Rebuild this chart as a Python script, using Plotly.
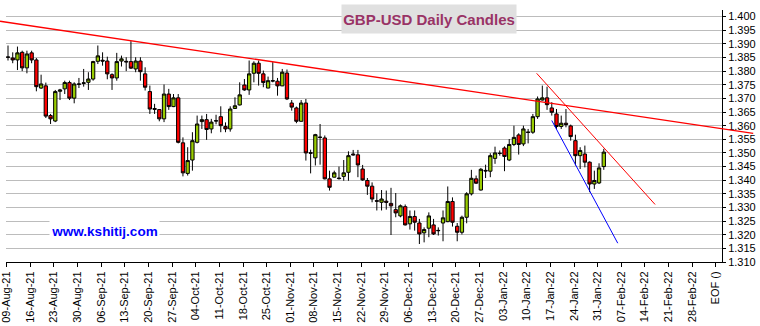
import plotly.graph_objects as go
import pandas as pd

# ---------------- data ----------------
START_DATE = "2021-08-09"

OPEN = [1.3852, 1.3848, 1.3841, 1.3869, 1.3812, 1.3867, 1.3841, 1.3738, 1.3746, 1.3637,
        1.3617, 1.3726, 1.3735, 1.3758, 1.3701, 1.3753, 1.3755, 1.3759, 1.3771, 1.3836,
        1.3840, 1.3837, 1.3787, 1.3775, 1.3837, 1.3836, 1.3835, 1.3808, 1.3837, 1.3790,
        1.3725, 1.3663, 1.3659, 1.3625, 1.3716, 1.3670, 1.3702, 1.3537, 1.3425, 1.3474,
        1.3539, 1.3615, 1.3622, 1.3588, 1.3617, 1.3633, 1.3597, 1.3588, 1.3663, 1.3676,
        1.3749, 1.3731, 1.3792, 1.3829, 1.3790, 1.3738, 1.3765, 1.3763, 1.3746, 1.3793,
        1.3683, 1.3665, 1.3616, 1.3683, 1.3501, 1.3482, 1.3558, 1.3555, 1.3405, 1.3411,
        1.3408, 1.3414, 1.3429, 1.3496, 1.3493, 1.3441, 1.3399, 1.3378, 1.3325, 1.3319,
        1.3323, 1.3315, 1.3292, 1.3269, 1.3303, 1.3240, 1.3267, 1.3243, 1.3207, 1.3224,
        1.3236, 1.3216, 1.3243, 1.3248, 1.3322, 1.3231, 1.3209, 1.3264, 1.3350, 1.3405,
        1.3364, 1.3436, 1.3433, 1.3480, 1.3499, 1.3518, 1.3474, 1.3531, 1.3566, 1.3533,
        1.3577, 1.3576, 1.3633, 1.3694, 1.3702, 1.3665, 1.3643, 1.3597, 1.3609, 1.3599,
        1.3545, 1.3490, 1.3496, 1.3466, 1.3386, 1.3390, 1.3450]
HIGH = [1.3894, 1.3869, 1.3890, 1.3875, 1.3875, 1.3875, 1.3848, 1.3787, 1.3758, 1.3643,
        1.3731, 1.3735, 1.3765, 1.3765, 1.3759, 1.3775, 1.3808, 1.3796, 1.3838, 1.3894,
        1.3869, 1.3853, 1.3792, 1.3867, 1.3857, 1.3851, 1.3910, 1.3851, 1.3851, 1.3814,
        1.3747, 1.3680, 1.3661, 1.3751, 1.3735, 1.3716, 1.3716, 1.3557, 1.3521, 1.3576,
        1.3637, 1.3637, 1.3643, 1.3625, 1.3640, 1.3671, 1.3612, 1.3671, 1.3704, 1.3759,
        1.3771, 1.3839, 1.3836, 1.3839, 1.3802, 1.3780, 1.3833, 1.3775, 1.3808, 1.3806,
        1.3694, 1.3670, 1.3694, 1.3698, 1.3512, 1.3570, 1.3606, 1.3564, 1.3435, 1.3435,
        1.3450, 1.3474, 1.3506, 1.3511, 1.3511, 1.3456, 1.3408, 1.3392, 1.3352, 1.3364,
        1.3362, 1.3372, 1.3353, 1.3311, 1.3311, 1.3289, 1.3289, 1.3258, 1.3227, 1.3282,
        1.3258, 1.3227, 1.3289, 1.3377, 1.3337, 1.3243, 1.3270, 1.3356, 1.3438, 1.3417,
        1.3445, 1.3457, 1.3499, 1.3523, 1.3509, 1.3524, 1.3551, 1.3600, 1.3572, 1.3600,
        1.3588, 1.3643, 1.3707, 1.3747, 1.3743, 1.3686, 1.3661, 1.3637, 1.3661, 1.3604,
        1.3567, 1.3521, 1.3527, 1.3469, 1.3435, 1.3462, 1.3515]
LOW = [1.3839, 1.3829, 1.3804, 1.3800, 1.3792, 1.3829, 1.3726, 1.3735, 1.3628, 1.3606,
       1.3613, 1.3694, 1.3716, 1.3694, 1.3682, 1.3738, 1.3743, 1.3731, 1.3765, 1.3826,
       1.3820, 1.3770, 1.3731, 1.3765, 1.3817, 1.3800, 1.3808, 1.3796, 1.3765, 1.3729,
       1.3643, 1.3643, 1.3616, 1.3613, 1.3658, 1.3668, 1.3535, 1.3414, 1.3417, 1.3435,
       1.3535, 1.3588, 1.3548, 1.3572, 1.3605, 1.3576, 1.3576, 1.3578, 1.3661, 1.3674,
       1.3728, 1.3713, 1.3759, 1.3747, 1.3741, 1.3737, 1.3759, 1.3710, 1.3745, 1.3694,
       1.3655, 1.3609, 1.3615, 1.3472, 1.3425, 1.3454, 1.3457, 1.3403, 1.3362, 1.3410,
       1.3402, 1.3398, 1.3398, 1.3490, 1.3411, 1.3398, 1.3346, 1.3319, 1.3289, 1.3289,
       1.3292, 1.3199, 1.3264, 1.3264, 1.3234, 1.3219, 1.3215, 1.3166, 1.3172, 1.3191,
       1.3199, 1.3197, 1.3176, 1.3246, 1.3230, 1.3176, 1.3201, 1.3242, 1.3344, 1.3386,
       1.3362, 1.3408, 1.3411, 1.3460, 1.3490, 1.3433, 1.3470, 1.3525, 1.3494, 1.3525,
       1.3535, 1.3570, 1.3625, 1.3692, 1.3658, 1.3637, 1.3588, 1.3588, 1.3594, 1.3545,
       1.3454, 1.3441, 1.3447, 1.3356, 1.3368, 1.3386, 1.3438]
CLOSE = [1.3851, 1.3841, 1.3867, 1.3812, 1.3863, 1.3841, 1.3743, 1.3753, 1.3635, 1.3625,
         1.3725, 1.3731, 1.3758, 1.3701, 1.3753, 1.3752, 1.3757, 1.3771, 1.3835, 1.3856,
         1.3837, 1.3790, 1.3775, 1.3835, 1.3845, 1.3834, 1.3811, 1.3837, 1.3798, 1.3741,
         1.3661, 1.3660, 1.3625, 1.3716, 1.3670, 1.3702, 1.3539, 1.3427, 1.3472, 1.3545,
         1.3606, 1.3622, 1.3586, 1.3613, 1.3618, 1.3600, 1.3588, 1.3661, 1.3673, 1.3713,
         1.3731, 1.3790, 1.3829, 1.3792, 1.3758, 1.3765, 1.3764, 1.3746, 1.3796, 1.3698,
         1.3668, 1.3616, 1.3683, 1.3500, 1.3499, 1.3567, 1.3557, 1.3405, 1.3374, 1.3427,
         1.3406, 1.3427, 1.3490, 1.3493, 1.3456, 1.3401, 1.3378, 1.3331, 1.3323, 1.3331,
         1.3319, 1.3306, 1.3280, 1.3306, 1.3236, 1.3267, 1.3246, 1.3203, 1.3219, 1.3269,
         1.3203, 1.3215, 1.3262, 1.3322, 1.3246, 1.3209, 1.3264, 1.3350, 1.3407, 1.3389,
         1.3440, 1.3434, 1.3490, 1.3500, 1.3498, 1.3487, 1.3531, 1.3557, 1.3531, 1.3588,
         1.3575, 1.3633, 1.3698, 1.3702, 1.3677, 1.3649, 1.3597, 1.3609, 1.3604, 1.3560,
         1.3490, 1.3509, 1.3466, 1.3386, 1.3399, 1.3445, 1.3503]

WEEK_LABELS = ["09-Aug-21", "16-Aug-21", "23-Aug-21", "30-Aug-21", "06-Sep-21", "13-Sep-21",
               "20-Sep-21", "27-Sep-21", "04-Oct-21", "11-Oct-21", "18-Oct-21", "25-Oct-21",
               "01-Nov-21", "08-Nov-21", "15-Nov-21", "22-Nov-21", "29-Nov-21", "06-Dec-21",
               "13-Dec-21", "20-Dec-21", "27-Dec-21", "03-Jan-22", "10-Jan-22", "17-Jan-22",
               "24-Jan-22", "31-Jan-22", "07-Feb-22", "14-Feb-22", "21-Feb-22", "28-Feb-22",
               "EOF ()"]
DAYS_PER_WEEK = 5

Y_TICKS = [1.310, 1.315, 1.320, 1.325, 1.330, 1.335, 1.340, 1.345, 1.350, 1.355,
           1.360, 1.365, 1.370, 1.375, 1.380, 1.385, 1.390, 1.395, 1.400]

# trend lines: (trading-day index, price) end points
TREND_LONG_X = [-1.69, 157.6]
TREND_LONG_Y = [1.3983, 1.3572]
TREND_RED_X = [111.8, 136.85]
TREND_RED_Y = [1.3792, 1.3311]
TREND_BLUE_X = [115.0, 128.95]
TREND_BLUE_Y = [1.3619, 1.3169]

TITLE = "GBP-USD Daily Candles"
WATERMARK = "www.kshitij.com"

# ---------------- layout geometry ----------------
W, H = 760, 326
ML, MR, MT, MB = 0, 0, 10, 64
PLOT_L, PLOT_R = 6, 722          # pixel extent of the main plot area
X_RANGE = [-0.423, 151.0]
Y_RANGE = [1.310, 1.40242]
FONT = "Liberation Sans, Arial, sans-serif"

dates = pd.bdate_range(START_DATE, periods=len(OPEN))
xpos = list(range(len(OPEN)))
hover = [d.strftime("%d-%b-%y") for d in dates]
tickvals = [DAYS_PER_WEEK * w - 0.3 for w in range(len(WEEK_LABELS))]

fig = go.Figure()
fig.add_trace(go.Candlestick(
    x=xpos, open=OPEN, high=HIGH, low=LOW, close=CLOSE, text=hover,
    increasing=dict(fillcolor="#99cc00", line=dict(color="#000000", width=1)),
    decreasing=dict(fillcolor="#ff0000", line=dict(color="#000000", width=1)),
    whiskerwidth=0, showlegend=False, hoverinfo="text+y",
))
fig.add_trace(go.Scatter(x=TREND_RED_X, y=TREND_RED_Y, mode="lines",
                         line=dict(color="#ff0000", width=1), showlegend=False, hoverinfo="skip"))
fig.add_trace(go.Scatter(x=TREND_BLUE_X, y=TREND_BLUE_Y, mode="lines",
                         line=dict(color="#0000ff", width=1), showlegend=False, hoverinfo="skip"))

# long trend line runs past the plot edges: draw it on a full-width twin axis with the same scale
plot_w = PLOT_R - PLOT_L
k = (X_RANGE[1] - X_RANGE[0]) / plot_w
x2_range = [X_RANGE[0] - PLOT_L * k, X_RANGE[1] + (W - PLOT_R) * k]
fig.add_trace(go.Scatter(x=TREND_LONG_X, y=TREND_LONG_Y, mode="lines", xaxis="x2", yaxis="y2",
                         line=dict(color="#ff0000", width=1.3), showlegend=False, hoverinfo="skip"))

plot_h = H - MT - MB
fig.update_layout(
    width=W, height=H,
    margin=dict(l=ML, r=MR, t=MT, b=MB, pad=0),
    paper_bgcolor="#ffffff", plot_bgcolor="rgba(0,0,0,0)",
    font=dict(family=FONT, size=11, color="#000000"),
    boxgap=0.3, boxgroupgap=0.0,
    xaxis=dict(
        domain=[PLOT_L / W, PLOT_R / W], range=X_RANGE, anchor="y",
        tickmode="array", tickvals=tickvals, ticktext=WEEK_LABELS, tickangle=-90,
        ticks="outside", ticklen=4, tickcolor="#000000", tickwidth=1,
        showline=True, linecolor="#000000", linewidth=1,
        showgrid=False, zeroline=False, rangeslider=dict(visible=False),
        tickfont=dict(family=FONT, size=11, color="#000000"), automargin=False,
    ),
    yaxis=dict(
        domain=[0, 1], range=Y_RANGE, anchor="x", side="right",
        tickmode="array", tickvals=Y_TICKS, ticktext=[f"{v:.3f}" for v in Y_TICKS],
        ticks="outside", ticklen=3, tickcolor="#000000", tickwidth=1,
        showline=True, linecolor="#000000", linewidth=1,
        showgrid=True, gridcolor="#bcbcbc", gridwidth=1, zeroline=False,
        tickfont=dict(family=FONT, size=11, color="#000000"), automargin=False,
    ),
    xaxis2=dict(domain=[0, 1], range=x2_range, anchor="y2", visible=False,
                showgrid=False, zeroline=False),
    yaxis2=dict(domain=[0, 1], range=Y_RANGE, anchor="x2", visible=False,
                showgrid=False, zeroline=False),
    annotations=[
        dict(text="<b>" + TITLE + "</b>", xref="paper", yref="paper",
             x=429 / W, y=(H - MB - 19) / plot_h, xanchor="center", yanchor="middle",
             showarrow=False, bgcolor="#e0e0e0", width=174, height=28, borderpad=0,
             font=dict(family=FONT, size=15, color="#993366")),
        dict(text="<b>" + WATERMARK + "</b>", xref="paper", yref="paper",
             x=104.5 / W, y=(H - MB - 231) / plot_h, xanchor="center", yanchor="middle",
             showarrow=False, bgcolor="#ffffff", width=109, height=24, borderpad=0,
             font=dict(family=FONT, size=13.5, color="#0000ff")),
    ],
)

fig.write_html("out.html")
